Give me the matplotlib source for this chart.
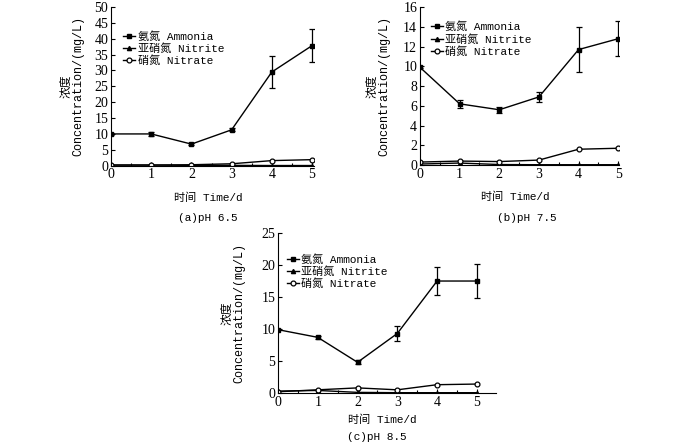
import matplotlib
matplotlib.use("Agg")
import matplotlib.pyplot as plt
from matplotlib.lines import Line2D
from matplotlib.ticker import MultipleLocator

plt.rcParams['font.family'] = ['Liberation Mono', 'Noto Sans CJK SC']

days = [0, 1, 2, 3, 4, 5]

# pH 6.5
amm_a = [10.0, 10.0, 6.8, 11.3, 29.5, 37.8]
amm_a_err = [0.3, 0.6, 0.3, 0.5, 5.0, 5.3]
nit_a = [0.2, 0.2, 0.1, 0.1, 0.05, 0.05]
nat_a = [0.2, 0.2, 0.3, 0.6, 1.6, 1.9]

# pH 7.5
amm_b = [9.9, 6.2, 5.6, 6.9, 11.7, 12.8]
amm_b_err = [0.1, 0.4, 0.3, 0.5, 2.3, 1.8]
nit_b = [0.1, 0.2, 0.05, 0.03, 0.03, 0.03]
nat_b = [0.3, 0.4, 0.35, 0.5, 1.6, 1.7]

# pH 8.5
amm_c = [9.9, 8.7, 4.8, 9.3, 17.5, 17.5]
amm_c_err = [0.1, 0.2, 0.3, 1.1, 2.2, 2.7]
nit_c = [0.3, 0.4, 0.1, 0.05, 0.05, 0.05]
nat_c = [0.2, 0.5, 0.8, 0.5, 1.3, 1.4]

labels = ['氨氮 Ammonia', '亚硝氮 Nitrite', '硝氮 Nitrate']
captions = ['(a)pH 6.5', '(b)pH 7.5', '(c)pH 8.5']

fig = plt.figure(figsize=(7, 4.46), dpi=100)

# axes rect, data, y max, y step, x max, legend anchor, ylabel x, xlabel y, caption pos
panels = [
    ([0.1586, 0.6285, 0.2900, 0.356], amm_a, amm_a_err, nit_a, nat_a, 50, 5, 5.05,
     (0.06, 0.85), -0.19, -0.20, (0.297, 0.512)),
    ([0.6000, 0.6300, 0.2843, 0.354], amm_b, amm_b_err, nit_b, nat_b, 16, 2, 5.02,
     (0.055, 0.91), -0.21, -0.20, (0.753, 0.512)),
    ([0.3971, 0.1188, 0.3114, 0.3587], amm_c, amm_c_err, nit_c, nat_c, 25, 5, 5.48,
     (0.04, 0.87), -0.205, -0.17, (0.538, 0.020)),
]

for i, (pos, amm, err, nit, nat, ymax, ystep, xmax, leg_xy, ylx, xly, cap) in enumerate(panels):
    ax = fig.add_axes(pos)
    ax.errorbar(days, amm, yerr=err, color='black', lw=1, marker='s', ms=3.2,
                capsize=2.2, elinewidth=0.9, capthick=0.9)
    ax.plot(days, nit, color='black', lw=1, marker='^', ms=3)
    ax.plot(days, nat, color='black', lw=1, marker='o', ms=3.5,
            mfc='white', mew=0.9)
    ax.set_xlim(0, xmax)
    ax.set_ylim(0, ymax)
    ax.xaxis.set_major_locator(MultipleLocator(1))
    ax.xaxis.set_minor_locator(MultipleLocator(0.5))
    ax.yaxis.set_major_locator(MultipleLocator(ystep))
    ax.spines['top'].set_visible(False)
    ax.spines['right'].set_visible(False)
    ax.tick_params(direction='in', length=3, width=0.8, labelsize=10, pad=2)
    ax.tick_params(which='minor', direction='in', length=2, width=0.8)
    for lab in ax.get_xticklabels() + ax.get_yticklabels():
        lab.set_family('Liberation Serif')
    ax.set_xlabel('时间 Time/d', fontsize=8)
    ax.xaxis.set_label_coords(0.48, xly)
    ax.xaxis.label.set_va('center')
    ax.set_ylabel('浓度\nConcentration/(mg/L)', fontsize=8.5, linespacing=1.05)
    ax.yaxis.set_label_coords(ylx, 0.5)
    ax.yaxis.label.set_va('center')
    handles = [
        Line2D([], [], color='black', lw=1, marker='s', ms=3.2),
        Line2D([], [], color='black', lw=1, marker='^', ms=3),
        Line2D([], [], color='black', lw=1, marker='o', ms=3.5, mfc='white', mew=0.9),
    ]
    ax.legend(handles, labels, loc='upper left', frameon=False, fontsize=8,
              handlelength=1.1, handletextpad=0.2, labelspacing=0.15,
              borderaxespad=0, borderpad=0, bbox_to_anchor=leg_xy)
    fig.text(cap[0], cap[1], captions[i], ha='center', va='center', fontsize=8)

fig.savefig('out.png', dpi=100)
